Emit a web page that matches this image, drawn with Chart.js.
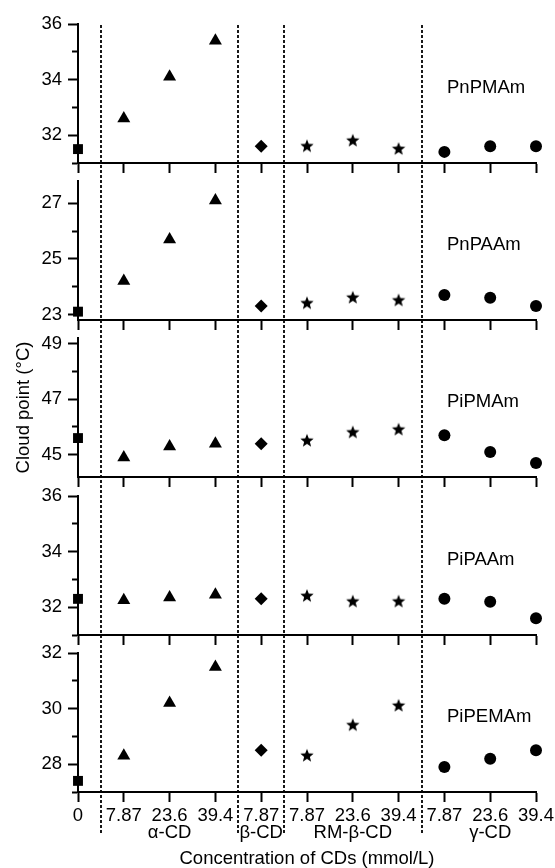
<!DOCTYPE html>
<html>
<head>
<meta charset="utf-8">
<script src="https://cdn.jsdelivr.net/npm/chart.js@4"></script>
<style>
  html, body { margin: 0; padding: 0; background: #fff; }
  #wrap { position: relative; width: 555px; height: 868px; }
  #wrap canvas { position: absolute; left: 0; }
</style>
</head>
<body>
<div id="wrap"></div>
<script>
// ---- data ----
const polymers = ['PnPMAm', 'PnPAAm', 'PiPMAm', 'PiPAAm', 'PiPEMAm'];

// cloud point (°C) at each x position: control, α-CD x3, β-CD, RM-β-CD x3, γ-CD x3
const PnPMAm  = [31.5, 32.6, 34.1, 35.4, 31.6, 31.6, 31.8, 31.5, 31.4, 31.6, 31.6];
const PnPAAm  = [23.1, 24.2, 25.7, 27.1, 23.3, 23.4, 23.6, 23.5, 23.7, 23.6, 23.3];
const PiPMAm  = [45.6, 44.9, 45.3, 45.4, 45.4, 45.5, 45.8, 45.9, 45.7, 45.1, 44.7];
const PiPAAm  = [32.3, 32.25, 32.35, 32.45, 32.3, 32.4, 32.2, 32.2, 32.3, 32.2, 31.6];
const PiPEMAm = [27.4, 28.3, 30.2, 31.5, 28.5, 28.3, 29.4, 30.1, 27.9, 28.2, 28.5];
const cloudPoints = [PnPMAm, PnPAAm, PiPMAm, PiPAAm, PiPEMAm];

const xTickLabels = ['0', '7.87', '23.6', '39.4', '7.87', '7.87', '23.6', '39.4', '7.87', '23.6', '39.4'];

// CD groups: [first index, last index] and their names
const groupNames  = ['', 'α-CD', 'β-CD', 'RM-β-CD', 'γ-CD'];
const groupRanges = [[0, 0], [1, 3], [4, 4], [5, 7], [8, 10]];

const yMin = [31, 22.8, 44.2, 31, 27];
const yMax = [36, 27.8, 49.2, 36, 32];
const yMajor = [[32, 34, 36], [23, 25, 27], [45, 47, 49], [32, 34, 36], [28, 30, 32]];
const yMinor = [[31, 33, 35], [24, 26], [46, 48], [31, 33, 35], [27, 29, 31]];

const xTitle = 'Concentration of CDs (mmol/L)';
const yTitle = 'Cloud point (°C)';

// ---- styling ----
const FONT = "'Liberation Sans', Arial, sans-serif";
const FS = 18.5;
const INK = '#000';
const CANVAS_TOPS = [0, 157, 314, 472, 629];
const PANEL_H = 139;

function makeStar(R, ratio) {
  const size = Math.ceil(R) * 2 + 2;
  const c = document.createElement('canvas');
  c.width = c.height = size;
  const g = c.getContext('2d');
  g.beginPath();
  for (let k = 0; k < 10; k++) {
    const r = k % 2 ? R * ratio : R;
    const a = -Math.PI / 2 + k * Math.PI / 5;
    g.lineTo(size / 2 + r * Math.cos(a), size / 2 + r * Math.sin(a));
  }
  g.closePath();
  g.fillStyle = INK;
  g.fill();
  return c;
}

const markerStyles = ['rect', 'triangle', 'rectRot', makeStar(7, 0.43), 'circle'];
const markerRadius = [7, 7.5, 6.5, 7, 6];

// group separators sit halfway between groups
const separators = groupRanges.slice(0, -1).map(r => r[1] + 0.5);

// tick label, plus the group name under the middle tick of each CD group
function xLabel(k) {
  const gi = groupRanges.findIndex((r, n) => groupNames[n] && Math.round((r[0] + r[1]) / 2) === k);
  return gi >= 0 ? [xTickLabels[k], groupNames[gi]] : xTickLabels[k];
}

// dotted separators + polymer label
const panelDecor = {
  id: 'panelDecor',
  beforeDatasetsDraw(chart, args, opts) {
    const { ctx, chartArea } = chart;
    const xs = chart.scales.x;
    const period = 5;
    ctx.save();
    ctx.strokeStyle = INK;
    ctx.lineWidth = 1.8;
    ctx.setLineDash([3, 2]);
    const y0 = chartArea.top - opts.up;
    ctx.lineDashOffset = (opts.canvasTop + y0) % period;
    separators.forEach(s => {
      const px = Math.round(xs.getPixelForValue(s));
      ctx.beginPath();
      ctx.moveTo(px, y0);
      ctx.lineTo(px, chartArea.bottom + opts.down);
      ctx.stroke();
    });
    ctx.setLineDash([]);
    ctx.fillStyle = INK;
    ctx.font = FS + 'px ' + FONT;
    ctx.textAlign = 'left';
    ctx.textBaseline = 'middle';
    ctx.fillText(opts.label, chartArea.left + 369, chartArea.top + 64);
    ctx.restore();
  }
};

const wrap = document.getElementById('wrap');

polymers.forEach((name, i) => {
  const isLast = i === polymers.length - 1;
  const canvas = document.createElement('canvas');
  const h = isLast ? 868 - CANVAS_TOPS[i] : 24 + PANEL_H + 24;
  canvas.width = 555;
  canvas.height = h;
  canvas.style.top = CANVAS_TOPS[i] + 'px';
  wrap.appendChild(canvas);

  const values = cloudPoints[i];
  const datasets = groupRanges.map((r, k) => ({
    label: groupNames[k] || 'none',
    data: values.slice(r[0], r[1] + 1).map((v, j) => ({ x: r[0] + j, y: v })),
    pointStyle: markerStyles[k],
    pointRadius: markerRadius[k],
    pointBackgroundColor: INK,
    pointBorderWidth: 0,
    showLine: false,
    clip: false
  }));

  const major = yMajor[i];
  const minor = yMinor[i];

  new Chart(canvas, {
    type: 'scatter',
    data: { datasets },
    options: {
      animation: false,
      responsive: false,
      layout: { padding: { top: 24, left: 0, right: 19, bottom: 0 } },
      plugins: {
        legend: { display: false },
        tooltip: { enabled: false },
        panelDecor: {
          label: name,
          canvasTop: CANVAS_TOPS[i],
          up: i === 0 ? 1 : 18,
          down: isLast ? 41 : 0
        }
      },
      scales: {
        x: {
          type: 'linear',
          min: 0,
          max: xTickLabels.length - 1,
          afterBuildTicks: s => { s.ticks = xTickLabels.map((_, k) => ({ value: k })); },
          afterFit: s => {
            s.height = isLast ? 76 : 24;
            s.paddingLeft = 0;
            s.paddingRight = 0;
          },
          grid: { drawOnChartArea: false, tickLength: 10, tickWidth: 2, tickColor: INK },
          border: { color: INK, width: 2 },
          ticks: {
            autoSkip: false,
            maxRotation: 0,
            padding: 5,
            color: INK,
            font: { family: FONT, size: FS, lineHeight: 0.92 },
            callback: v => isLast ? xLabel(v) : ''
          },
          title: {
            display: isLast,
            text: xTitle,
            color: INK,
            padding: 0,
            font: { family: FONT, size: FS, lineHeight: 1 }
          }
        },
        y: {
          min: yMin[i],
          max: yMax[i],
          afterBuildTicks: s => {
            s.ticks = [...major, ...minor].sort((a, b) => a - b).map(v => ({ value: v }));
          },
          afterFit: s => {
            s.width = 78;
            s.paddingTop = 0;
            s.paddingBottom = 0;
          },
          grid: {
            drawOnChartArea: false,
            tickLength: 10,
            tickWidth: 2,
            tickColor: INK,
            tickBorderDash: c => (c.tick && minor.includes(c.tick.value)) ? [0, 4, 10] : []
          },
          border: { color: INK, width: 2 },
          ticks: {
            autoSkip: false,
            padding: 6,
            color: INK,
            font: { family: FONT, size: FS },
            callback: v => major.includes(v) ? String(v) : ''
          },
          title: {
            display: i === 2,
            text: yTitle,
            color: INK,
            padding: { top: 15, bottom: 0 },
            font: { family: FONT, size: FS, lineHeight: 1 }
          }
        }
      }
    },
    plugins: [panelDecor]
  });
});
</script>
</body>
</html>
